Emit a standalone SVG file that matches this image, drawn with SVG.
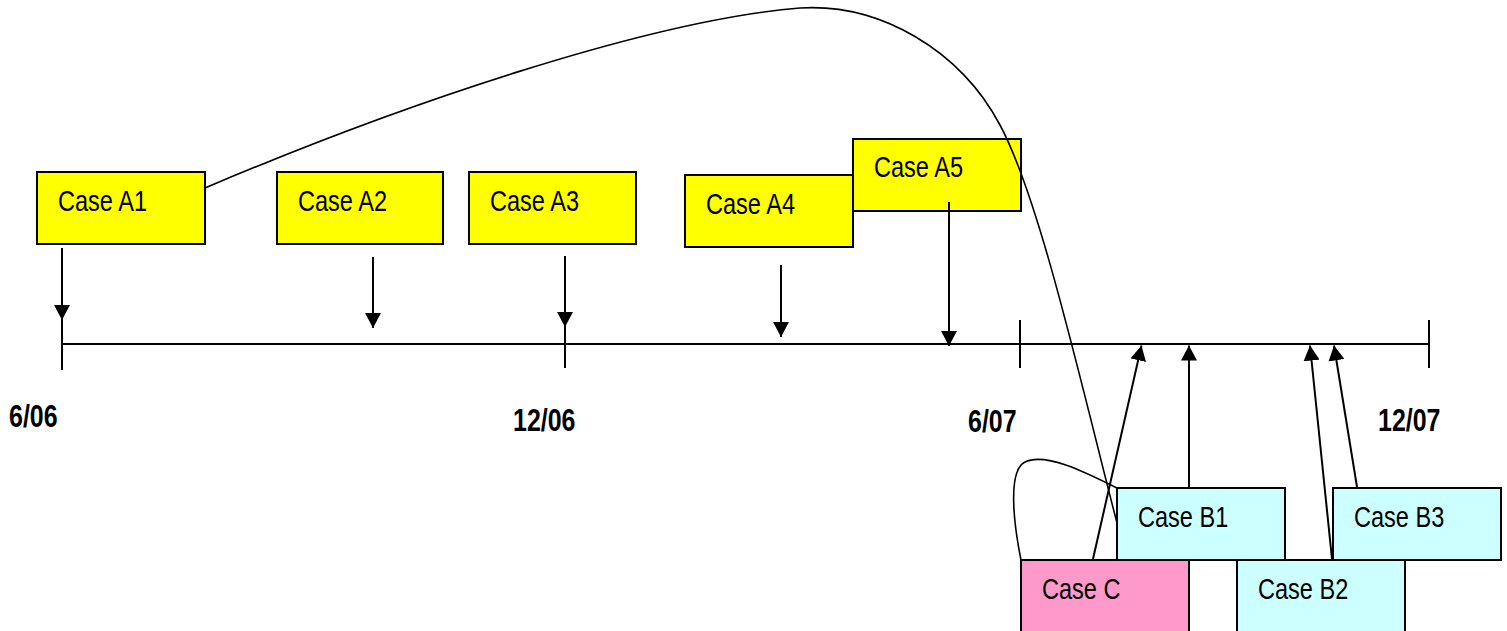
<svg xmlns="http://www.w3.org/2000/svg" width="1507" height="631" viewBox="0 0 1507 631">
<style>
.box{stroke:#000;stroke-width:2}
.a{fill:#FFFF00}
.b{fill:#CCFFFF}
.c{fill:#FF99CC}
.lbl{font-family:"Liberation Sans",Arial,sans-serif;font-size:30px;fill:#000}
.date{font-family:"Liberation Sans",Arial,sans-serif;font-size:32px;font-weight:bold;fill:#000}
.ln{stroke:#000;stroke-width:2;fill:none}
.cv{stroke:#000;stroke-width:1.6;fill:none}
.arr{stroke:#000;stroke-width:2;fill:none;marker-end:url(#ah)}
</style>
<defs>
<marker id="ah" viewBox="0 0 15 16" refX="15" refY="8" markerWidth="15" markerHeight="16" markerUnits="userSpaceOnUse" orient="auto">
<path d="M0,0 L15,8 L0,16 z" fill="#000"/>
</marker>
</defs>
<rect width="1507" height="631" fill="#fff"/>
<g id="timeline">
<line class="ln" x1="62" y1="344" x2="1429" y2="344"/>
<line class="ln" x1="62" y1="318" x2="62" y2="370"/>
<line class="ln" x1="565" y1="320" x2="565" y2="368"/>
<line class="ln" x1="1020" y1="320" x2="1020" y2="368"/>
<line class="ln" x1="1429" y1="320" x2="1429" y2="368"/>
</g>
<g id="dates">
<text class="date" transform="translate(9,427) scale(0.78,1)">6/06</text>
<text class="date" transform="translate(513,431) scale(0.78,1)">12/06</text>
<text class="date" transform="translate(968,431.5) scale(0.78,1)">6/07</text>
<text class="date" transform="translate(1378,431) scale(0.78,1)">12/07</text>
</g>
<g id="caseA1"><rect class="box a" x="37" y="172" width="168" height="72"/><text class="lbl" transform="translate(58,210.5) scale(0.785,1)">Case A1</text></g>
<g id="caseA2"><rect class="box a" x="277" y="172" width="166" height="72"/><text class="lbl" transform="translate(298,210.5) scale(0.785,1)">Case A2</text></g>
<g id="caseA3"><rect class="box a" x="469" y="172" width="167" height="72"/><text class="lbl" transform="translate(490,210.5) scale(0.785,1)">Case A3</text></g>
<g id="caseA4"><rect class="box a" x="685" y="175" width="168" height="72"/><text class="lbl" transform="translate(706,213.5) scale(0.785,1)">Case A4</text></g>
<g id="caseA5"><rect class="box a" x="853" y="139" width="168" height="72"/><text class="lbl" transform="translate(874,177) scale(0.785,1)">Case A5</text></g>
<g id="caseB1"><rect class="box b" x="1117" y="488" width="168" height="72"/><text class="lbl" transform="translate(1138,527) scale(0.785,1)">Case B1</text></g>
<g id="caseB3"><rect class="box b" x="1333" y="488" width="168" height="72"/><text class="lbl" transform="translate(1354,527) scale(0.785,1)">Case B3</text></g>
<g id="caseC"><rect class="box c" x="1021" y="560" width="168" height="72"/><text class="lbl" transform="translate(1042,598.5) scale(0.785,1)">Case C</text></g>
<g id="caseB2"><rect class="box b" x="1237" y="560" width="168" height="72"/><text class="lbl" transform="translate(1258,598.5) scale(0.785,1)">Case B2</text></g>
<g id="connectors">
<line class="arr" x1="62" y1="248" x2="62" y2="320"/>
<line class="arr" x1="373" y1="257" x2="373" y2="328"/>
<line class="arr" x1="565" y1="256" x2="565" y2="327"/>
<line class="arr" x1="781" y1="265" x2="781" y2="337"/>
<line class="arr" x1="949" y1="202" x2="949" y2="346"/>
<line class="arr" x1="1093" y1="559" x2="1141.5" y2="345.5"/>
<line class="arr" x1="1189" y1="487" x2="1189" y2="345.5"/>
<line class="arr" x1="1332" y1="559" x2="1310" y2="345.5"/>
<line class="arr" x1="1357" y1="487" x2="1334" y2="345.5"/>
<path class="cv" d="M205,188 C400,105 650,20 800,8 C880,3 960,50 1000,125 C1040,200 1080,380 1117,523"/>
<path class="cv" d="M1021,560 C1013,520 1008,470 1025,462 C1045,452 1085,472 1117,488"/>
</g>
</svg>
